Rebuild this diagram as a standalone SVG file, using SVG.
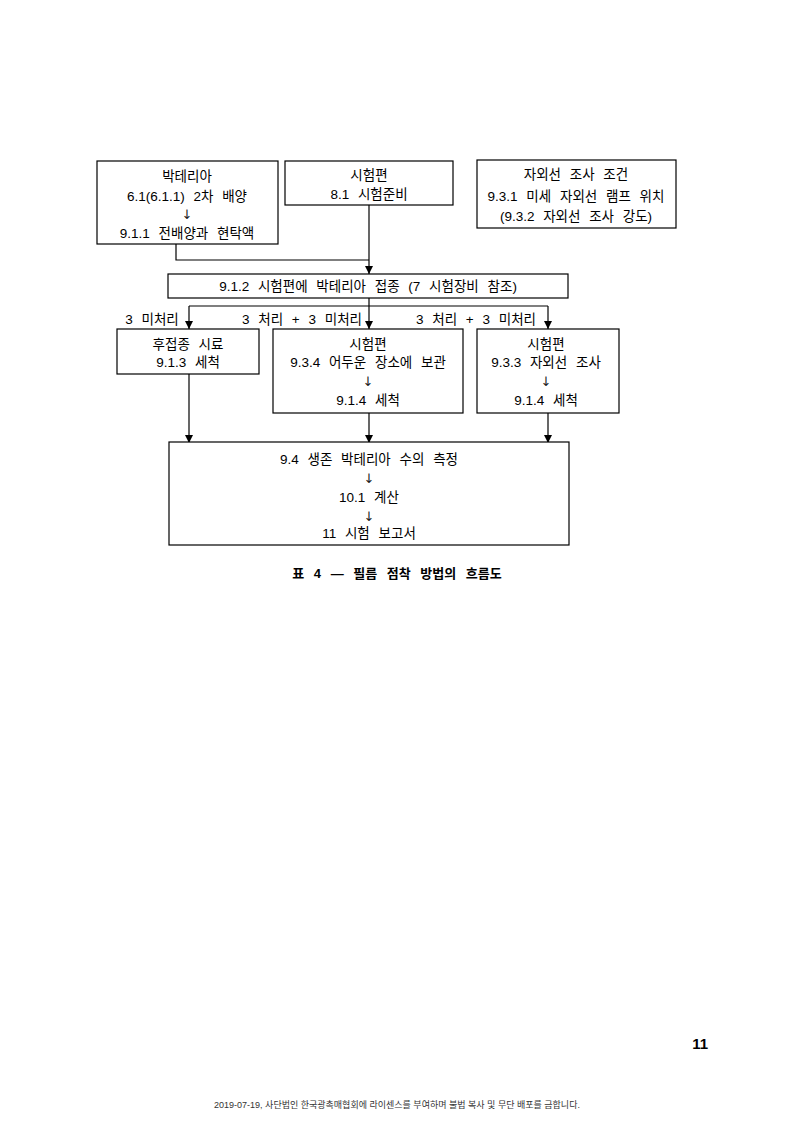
<svg xmlns="http://www.w3.org/2000/svg" width="793" height="1121" viewBox="0 0 793 1121">
<style>
.box{fill:#fff;stroke:#000;stroke-width:1.2}
.t{font-family:"Liberation Sans","Noto Sans CJK KR",sans-serif;font-size:13.5px;word-spacing:5px;fill:#000;text-anchor:middle}
.ar{font-family:"DejaVu Sans",sans-serif;font-size:13px;fill:#222;text-anchor:middle}
.ln{fill:none;stroke:#000;stroke-width:1.2}
</style>
<defs>
<marker id="ah" viewBox="0 0 10 10" refX="10" refY="5" markerWidth="8" markerHeight="8" markerUnits="userSpaceOnUse" orient="auto">
<path d="M0,0 L10,5 L0,10 z" fill="#000"/>
</marker>
</defs>
<rect width="793" height="1121" fill="#fff"/>
<g id="connectors">
<path class="ln" d="M176,244 V260 H369"/>
<path class="ln" d="M369,205 V274" marker-end="url(#ah)"/>
<path class="ln" d="M369,298 V306 M189,306 H548"/>
<path class="ln" d="M189,306 V329" marker-end="url(#ah)"/>
<path class="ln" d="M369,306 V329" marker-end="url(#ah)"/>
<path class="ln" d="M548,306 V329" marker-end="url(#ah)"/>
<path class="ln" d="M189,374 V443" marker-end="url(#ah)"/>
<path class="ln" d="M369,413 V443" marker-end="url(#ah)"/>
<path class="ln" d="M548,413 V443" marker-end="url(#ah)"/>
<text class="t" x="152" y="324">3 미처리</text>
<text class="t" x="302" y="324">3 처리 + 3 미처리</text>
<text class="t" x="476" y="324">3 처리 + 3 미처리</text>
</g>
<g id="n1">
<rect class="box" x="97" y="161" width="181" height="83"/>
<text class="t" x="187" y="181">박테리아</text>
<text class="t" x="187" y="201">6.1(6.1.1) 2차 배양</text>
<text class="ar" x="187" y="219">↓</text>
<text class="t" x="187" y="238">9.1.1 전배양과 현탁액</text>
</g>
<g id="n2">
<rect class="box" x="285" y="161" width="168" height="44"/>
<text class="t" x="369" y="180">시험편</text>
<text class="t" x="369" y="199">8.1 시험준비</text>
</g>
<g id="n3">
<rect class="box" x="477" y="160" width="199" height="68"/>
<text class="t" x="576" y="179">자외선 조사 조건</text>
<text class="t" x="576" y="201">9.3.1 미세 자외선 램프 위치</text>
<text class="t" x="576" y="221">(9.3.2 자외선 조사 강도)</text>
</g>
<g id="n4">
<rect class="box" x="168" y="274" width="400" height="24"/>
<text class="t" x="368" y="291">9.1.2 시험편에 박테리아 접종 (7 시험장비 참조)</text>
</g>
<g id="n5">
<rect class="box" x="117" y="329" width="142" height="45"/>
<text class="t" x="188" y="349">후접종 시료</text>
<text class="t" x="188" y="367">9.1.3 세척</text>
</g>
<g id="n6">
<rect class="box" x="273" y="329" width="190" height="84"/>
<text class="t" x="368" y="349">시험편</text>
<text class="t" x="368" y="367">9.3.4 어두운 장소에 보관</text>
<text class="ar" x="368" y="386">↓</text>
<text class="t" x="368" y="405">9.1.4 세척</text>
</g>
<g id="n7">
<rect class="box" x="477" y="329" width="142" height="84"/>
<text class="t" x="546" y="349">시험편</text>
<text class="t" x="546" y="367">9.3.3 자외선 조사</text>
<text class="ar" x="546" y="386">↓</text>
<text class="t" x="546" y="405">9.1.4 세척</text>
</g>
<g id="n8">
<rect class="box" x="169" y="442" width="400" height="103"/>
<text class="t" x="369" y="464">9.4 생존 박테리아 수의 측정</text>
<text class="ar" x="369" y="483">↓</text>
<text class="t" x="369" y="502">10.1 계산</text>
<text class="ar" x="369" y="521">↓</text>
<text class="t" x="369" y="538">11 시험 보고서</text>
</g>
<text x="397" y="578" font-family="Liberation Sans,'Noto Sans CJK KR',sans-serif" font-size="13" font-weight="bold" word-spacing="6" text-anchor="middle">표 4 — 필름 점착 방법의 흐름도</text>
<text x="708" y="1049" font-family="Liberation Sans,'Noto Sans CJK KR',sans-serif" font-size="15" font-weight="bold" text-anchor="end">11</text>
<text x="397" y="1108" font-family="Liberation Sans,'Noto Sans CJK KR',sans-serif" font-size="9" fill="#333" text-anchor="middle">2019-07-19, 사단법인 한국광촉매협회에 라이센스를 부여하며 불법 복사 및 무단 배포를 금합니다.</text>
</svg>
